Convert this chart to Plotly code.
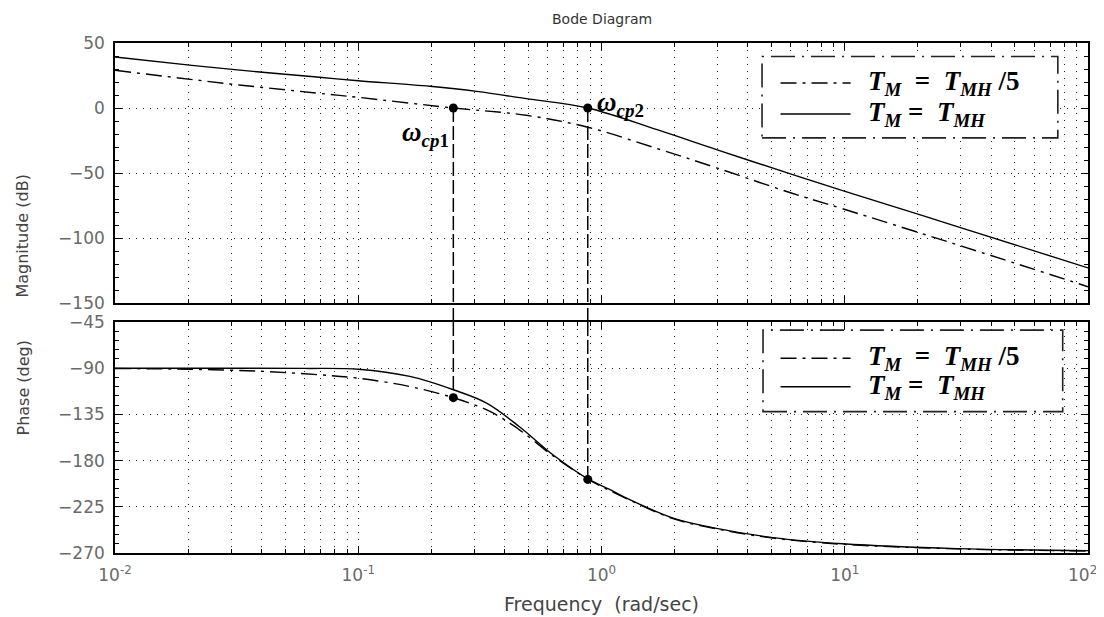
import math
import plotly.graph_objects as go
from plotly.subplots import make_subplots

# ---------------- data ----------------
freq_mag_solid = [0.01, 0.0207, 0.0369, 0.0675, 0.1, 0.197, 0.307, 0.49, 0.878,
                  1.68, 2.97, 5.94, 9.8, 28.8, 100]
mag_solid = [39.2, 32.8, 28.2, 23.8, 21.0, 16.7, 12.8, 7.2, 0.0,
             -16.5, -32.0, -50.5, -63.5, -91.0, -123.0]

freq_mag_dash = [0.01, 0.0297, 0.0675, 0.1, 0.246, 0.49, 0.878,
                 1.68, 2.97, 5.94, 9.8, 28.8, 100]
mag_dash = [29.0, 18.5, 11.5, 8.2, 0.0, -5.6, -14.8,
            -31.0, -46.0, -65.0, -77.5, -105.0, -137.5]

freq_ph_solid = [0.01, 0.03, 0.06, 0.1, 0.163, 0.246, 0.337, 0.46, 0.633, 0.887,
                 1.08, 1.23, 1.97, 2.97, 5.07, 9.8, 28.8, 100]
ph_solid = [-90.0, -90.0, -90.2, -91.0, -98.0, -111.0, -124.0, -147.0, -174.5, -198.3,
            -208.0, -215.0, -236.0, -246.0, -255.0, -261.0, -265.7, -267.7]

freq_ph_dash = [0.01, 0.02, 0.04, 0.07, 0.1, 0.16, 0.246, 0.35, 0.46, 0.633, 0.887,
                1.23, 1.97, 2.97, 5.07, 9.8, 28.8, 100]
ph_dash = [-90.3, -91.0, -93.0, -96.5, -99.7, -107.5, -118.7, -132.4, -150.0, -175.5, -198.5,
           -215.5, -236.5, -246.5, -255.5, -261.5, -266.0, -268.0]

omega_cp = [0.246, 0.878]
mag_cp = [0.0, 0.0]
phase_cp = [-118.7, -198.3]
cp_labels = ["<b><i>ω</i></b><sub><b><i>cp</i>1</b></sub>",
             "<b><i>ω</i></b><sub><b><i>cp</i>2</b></sub>"]
cp_label_db = [-20, 3]

legend_labels = [
    "<b><i>T</i></b><sub><b><i>M</i></b></sub><b>&nbsp; = &nbsp;</b><b><i>T</i></b><sub><b><i>MH</i></b></sub><b>&nbsp;/5</b>",
    "<b><i>T</i></b><sub><b><i>M</i></b></sub><b>&nbsp;= &nbsp;</b><b><i>T</i></b><sub><b><i>MH</i></b></sub>",
]

x_tickvals = [0.01, 0.1, 1, 10, 100]
x_ticktext = ["10<sup>-2</sup>", "10<sup>-1</sup>", "10<sup>0</sup>", "10<sup>1</sup>",
              "10<sup>2</sup>&nbsp;&nbsp;"]
x_minor = [m * 10.0 ** k for k in range(-2, 2) for m in range(2, 10)]
mag_ticks = [50, 0, -50, -100, -150]
phase_ticks = [-45, -90, -135, -180, -225, -270]

# ---------------- styles ----------------
DASHDOT = "16px,6px,3px,6px"
LINE_W = 1.4
TICK_FONT = dict(family="DejaVu Sans", size=17, color="#6a6a6a")
GRID = dict(showgrid=True, gridcolor="#222", gridwidth=1, griddash="1px,6px")

fig = make_subplots(rows=2, cols=1, shared_xaxes=True)

# magnitude
fig.add_trace(go.Scatter(x=freq_mag_dash, y=mag_dash, mode="lines", line_shape="spline",
                         line=dict(color="black", width=LINE_W, dash=DASHDOT),
                         showlegend=False), row=1, col=1)
fig.add_trace(go.Scatter(x=freq_mag_solid, y=mag_solid, mode="lines", line_shape="spline",
                         line=dict(color="black", width=LINE_W), showlegend=False), row=1, col=1)
# phase
fig.add_trace(go.Scatter(x=freq_ph_dash, y=ph_dash, mode="lines", line_shape="spline",
                         line=dict(color="black", width=LINE_W, dash=DASHDOT),
                         showlegend=False), row=2, col=1)
fig.add_trace(go.Scatter(x=freq_ph_solid, y=ph_solid, mode="lines", line_shape="spline",
                         line=dict(color="black", width=LINE_W), showlegend=False), row=2, col=1)

# crossover markers and vertical dashed connectors
for w, m, p in zip(omega_cp, mag_cp, phase_cp):
    fig.add_trace(go.Scatter(x=[w, w], y=[m, mag_ticks[-1]], mode="lines",
                             line=dict(color="black", width=1.5, dash="14px,4px"),
                             showlegend=False), row=1, col=1)
    fig.add_trace(go.Scatter(x=[w, w], y=[phase_ticks[0], p], mode="lines",
                             line=dict(color="black", width=1.5, dash="14px,4px"),
                             showlegend=False), row=2, col=1)
    fig.add_shape(type="line", xref="x", yref="paper", x0=w, x1=w, y0=0.4529, y1=0.4902,
                  line=dict(color="black", width=1.5, dash="14px,4px"))
fig.add_trace(go.Scatter(x=omega_cp, y=mag_cp, mode="markers",
                         marker=dict(color="black", size=9), showlegend=False), row=1, col=1)
fig.add_trace(go.Scatter(x=omega_cp, y=phase_cp, mode="markers",
                         marker=dict(color="black", size=9), showlegend=False), row=2, col=1)

SERIF = dict(family="Liberation Serif", size=27, color="black")
fig.add_annotation(x=math.log10(omega_cp[0]), y=cp_label_db[0], xref="x", yref="y",
                   text=cp_labels[0], showarrow=False, xanchor="right", yanchor="middle",
                   xshift=-2, font=SERIF)
fig.add_annotation(x=math.log10(omega_cp[1]), y=cp_label_db[1], xref="x", yref="y",
                   text=cp_labels[1], showarrow=False, xanchor="left", yanchor="middle",
                   xshift=7, font=SERIF)

# custom legends (one per panel)
legend_boxes = [
    dict(xr="x domain", yr="y domain", x0=0.665, x1=0.969, y0=0.635, y1=0.948, r1=0.846, r2=0.727),
    dict(xr="x2 domain", yr="y2 domain", x0=0.666, x1=0.974, y0=0.612, y1=0.965, r1=0.843, r2=0.72),
]
for b in legend_boxes:
    fig.add_shape(type="rect", xref=b["xr"], yref=b["yr"], x0=b["x0"], x1=b["x1"],
                  y0=b["y0"], y1=b["y1"], line=dict(color="#222", width=1.6,
                                                    dash="24px,7px,2px,7px"),
                  fillcolor="white", layer="above")
    fig.add_shape(type="line", xref=b["xr"], yref=b["yr"], x0=0.684, x1=0.756,
                  y0=b["r1"], y1=b["r1"], line=dict(color="black", width=LINE_W, dash=DASHDOT),
                  layer="above")
    fig.add_shape(type="line", xref=b["xr"], yref=b["yr"], x0=0.684, x1=0.756,
                  y0=b["r2"], y1=b["r2"], line=dict(color="black", width=LINE_W), layer="above")
    for lab, yy in zip(legend_labels, [b["r1"], b["r2"]]):
        fig.add_annotation(x=0.772, y=yy, xref=b["xr"], yref=b["yr"], text=lab,
                           showarrow=False, xanchor="left", yanchor="middle", font=SERIF)

# axis titles / title
fig.add_annotation(x=0, y=0.745, xref="paper", yref="paper", text="Magnitude (dB)",
                   textangle=-90, showarrow=False, xshift=-92, xanchor="center",
                   font=dict(family="DejaVu Sans", size=16, color="#444"))
fig.add_annotation(x=0, y=0.2265, xref="paper", yref="paper", text="Phase (deg)",
                   textangle=-90, showarrow=False, xshift=-92, xanchor="center",
                   font=dict(family="DejaVu Sans", size=16, color="#444"))
fig.add_annotation(x=0.5, y=0, xref="paper", yref="paper", text="Frequency&nbsp; (rad/sec)",
                   showarrow=False, yshift=-51, yanchor="middle",
                   font=dict(family="DejaVu Sans", size=19, color="#444"))
fig.add_annotation(x=0.5, y=1, xref="paper", yref="paper", text="Bode Diagram",
                   showarrow=False, yshift=24, yanchor="middle",
                   font=dict(family="DejaVu Sans", size=14, color="#333"))

xaxis_common = dict(type="log", range=[-2, 2], tickmode="array", tickvals=x_tickvals,
                    ticktext=x_ticktext, ticks="inside", ticklen=7, tickcolor="black",
                    showline=True, linecolor="black", linewidth=1.6, mirror="allticks",
                    zeroline=False, tickfont=TICK_FONT, ticklabelstandoff=6, automargin=False,
                    ticklabeloverflow="allow",
                    minor=dict(tickmode="array", tickvals=x_minor, ticks="inside", ticklen=4,
                               tickcolor="black", showgrid=True, gridcolor="#222",
                               gridwidth=1, griddash="1px,6px"),
                    **GRID)
fig.update_xaxes(**xaxis_common)
fig.update_xaxes(showticklabels=False, row=1, col=1)

yaxis_common = dict(ticks="inside", ticklen=7, tickcolor="black", showline=True,
                    linecolor="black", linewidth=1.6, mirror="allticks", zeroline=False,
                    tickfont=TICK_FONT, ticklabelstandoff=5, automargin=False, **GRID)
fig.update_yaxes(range=[-150, 50], tickmode="array", tickvals=mag_ticks,
                 minor=dict(dtick=10, ticks="inside", ticklen=4, tickcolor="black"),
                 row=1, col=1, **yaxis_common)
fig.update_yaxes(range=[-270, -45], tickmode="array", tickvals=phase_ticks,
                 minor=dict(dtick=9, ticks="inside", ticklen=4, tickcolor="black"),
                 row=2, col=1, **yaxis_common)

# the page body adds an 8px margin, so the figure is 8px smaller on each axis
fig.update_layout(
    width=1096, height=609,
    margin=dict(l=107, r=16, t=35, b=64, autoexpand=False),
    paper_bgcolor="white", plot_bgcolor="white",
    showlegend=False,
    yaxis=dict(domain=[0.4902, 1.0]),
    yaxis2=dict(domain=[0.0, 0.4529]),
)

fig.write_html("out.html")
